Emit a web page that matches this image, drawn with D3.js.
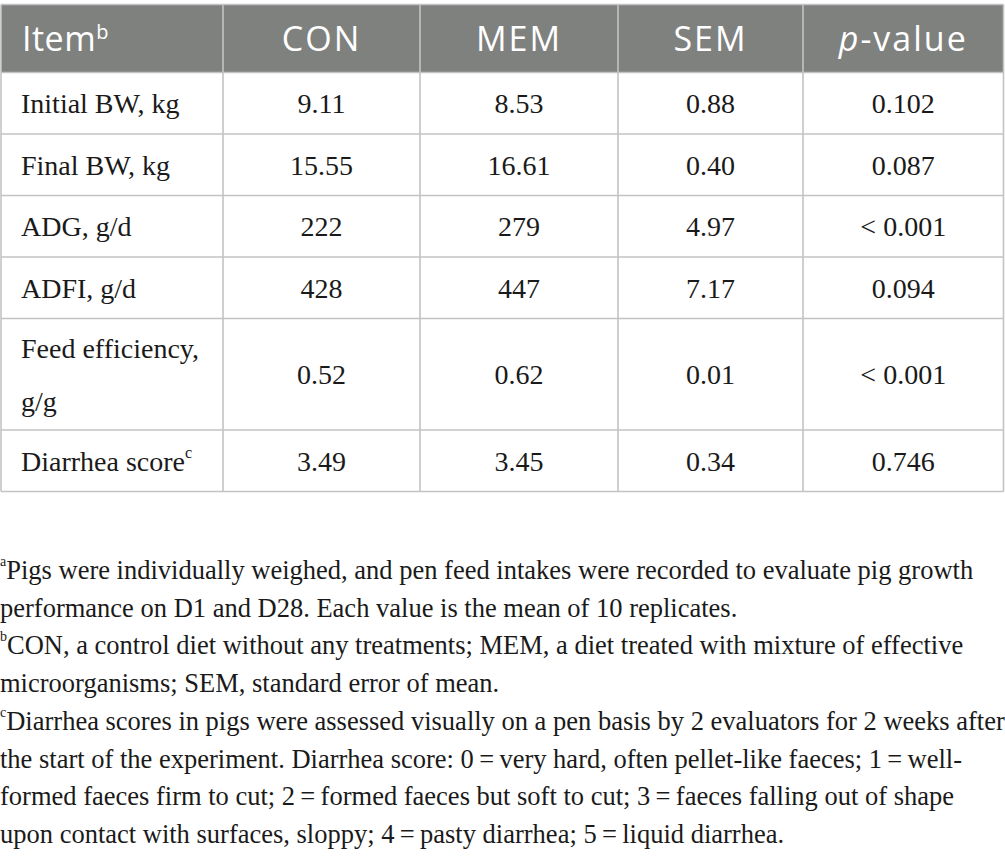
<!DOCTYPE html>
<html>
<head>
<meta charset="utf-8">
<script src="https://cdn.jsdelivr.net/npm/d3@7"></script>
<style>
	body { margin: 0; background: #fff; }
	svg { display: block; }
</style>
</head>
<body>
<div id="chart"></div>
<script>
// table content
const headers = ["Item", "CON", "MEM", "SEM", "p-value"];
const itemLines = [["Initial BW, kg"], ["Final BW, kg"], ["ADG, g/d"], ["ADFI, g/d"], ["Feed efficiency,", "g/g"], ["Diarrhea score"]];
const itemSup = ["", "", "", "", "", "c"];
const conValues = ["9.11", "15.55", "222", "428", "0.52", "3.49"];
const memValues = ["8.53", "16.61", "279", "447", "0.62", "3.45"];
const semValues = ["0.88", "0.40", "4.97", "7.17", "0.01", "0.34"];
const pValues = ["0.102", "0.087", "< 0.001", "0.094", "< 0.001", "0.746"];
const footnotes = [
	{ mark: "a", lines: ["Pigs were individually weighed, and pen feed intakes were recorded to evaluate pig growth",
		"performance on D1 and D28. Each value is the mean of 10 replicates."] },
	{ mark: "b", lines: ["CON, a control diet without any treatments; MEM, a diet treated with mixture of effective",
		"microorganisms; SEM, standard error of mean."] },
	{ mark: "c", lines: ["Diarrhea scores in pigs were assessed visually on a pen basis by 2 evaluators for 2 weeks after",
		"the start of the experiment. Diarrhea score: 0\u2009=\u2009very hard, often pellet-like faeces; 1\u2009=\u2009well-",
		"formed faeces firm to cut; 2\u2009=\u2009formed faeces but soft to cut; 3\u2009=\u2009faeces falling out of shape",
		"upon contact with surfaces, sloppy; 4\u2009=\u2009pasty diarrhea; 5\u2009=\u2009liquid diarrhea."] }
];

const width = 1005, height = 856;
const colEdges = [1, 223, 420, 618, 803, 1003.5];
const tableTop = 4.5, headH = 68, lineH = 61.5, extraLineH = 50;
const gridColor = "#c3c3c3", headFill = "#7f817f";
const serif = "'Liberation Serif', 'DejaVu Serif', serif";
const sans = "'Open Sans', 'Noto Sans', sans-serif";

const svg = d3.select("#chart").append("svg")
	.attr("width", width)
	.attr("height", height);

svg.append("rect").attr("width", width).attr("height", height).attr("fill", "#fff");

const rows = itemLines.map((lines, i) => ({
	lines: lines,
	sup: itemSup[i],
	cells: [conValues[i], memValues[i], semValues[i], pValues[i]]
}));

// row positions
let y0 = tableTop + headH;
rows.forEach(r => {
	r.h = lineH + (r.lines.length - 1) * extraLineH;
	r.y = y0;
	y0 += r.h;
});
const tableBottom = y0;

const colCenter = i => (colEdges[i] + colEdges[i + 1]) / 2;

// header band
svg.append("rect")
	.attr("x", colEdges[0]).attr("y", tableTop)
	.attr("width", colEdges[5] - colEdges[0]).attr("height", headH)
	.attr("fill", headFill);

// header labels
const head = svg.append("g").attr("class", "head")
	.style("font-family", sans)
	.style("font-size", "34px")
	.attr("fill", "#fff");

headers.forEach((h, i) => {
	const t = head.append("text")
		.attr("x", i === 0 ? 22 : colCenter(i))
		.attr("y", tableTop + headH / 2)
		.attr("dy", "0.36em")
		.attr("text-anchor", i === 0 ? "start" : "middle")
		.style("letter-spacing", i === 0 ? "0.5px" : "2px");
	if (h === "Item") {
		t.append("tspan").text("Item");
		t.append("tspan").attr("font-size", "20px").attr("dy", "-0.6em").text("b");
	} else if (h === "p-value") {
		t.append("tspan").attr("font-style", "italic").text("p");
		t.append("tspan").text("-value");
	} else {
		t.text(h);
	}
});

// body rows
const body = svg.append("g").attr("class", "body")
	.style("font-family", serif)
	.style("font-size", "28px")
	.attr("fill", "#1a1a1a");

const row = body.selectAll("g.row")
	.data(rows)
	.enter().append("g")
	.attr("class", "row")
	.attr("transform", d => `translate(0,${d.y})`);

row.each(function(d) {
	const g = d3.select(this);
	const n = d.lines.length;
	d.lines.forEach((line, k) => {
		const cy = d.h / 2 + (k - (n - 1) / 2) * 53;
		const t = g.append("text")
			.attr("x", 21)
			.attr("y", cy)
			.attr("dy", "0.35em")
			.text(line);
		if (k === n - 1 && d.sup) {
			t.append("tspan").attr("font-size", "16px").attr("dy", "-0.8em").text(d.sup);
		}
	});
	g.selectAll("text.val")
		.data(d.cells)
		.enter().append("text")
		.attr("class", "val")
		.attr("x", (v, i) => colCenter(i + 1))
		.attr("y", d.h / 2)
		.attr("dy", "0.35em")
		.attr("text-anchor", "middle")
		.text(v => v);
});

// grid lines
const grid = svg.append("g").attr("stroke", gridColor).attr("stroke-width", 1.6).attr("fill", "none");
const hLines = [tableTop].concat(rows.map(r => r.y), [tableBottom]);
grid.selectAll("line.h")
	.data(hLines)
	.enter().append("line")
	.attr("x1", colEdges[0]).attr("x2", colEdges[5])
	.attr("y1", d => d).attr("y2", d => d);
grid.selectAll("line.v")
	.data(colEdges)
	.enter().append("line")
	.attr("x1", d => d).attr("x2", d => d)
	.attr("y1", tableTop).attr("y2", tableBottom);

// footnotes
const notes = svg.append("g").attr("class", "notes")
	.style("font-family", serif)
	.style("font-size", "26.5px")
	.attr("fill", "#1a1a1a");

let ny = 579;
const noteStep = 37.7;
footnotes.forEach(f => {
	f.lines.forEach((line, k) => {
		const t = notes.append("text").attr("x", 0).attr("y", ny);
		if (k === 0) {
			t.append("tspan").attr("font-size", "14px").attr("dy", "-0.95em").text(f.mark);
			t.append("tspan").attr("dy", "0.502em").text(line);
		} else {
			t.text(line);
		}
		ny += noteStep;
	});
});
</script>
</body>
</html>
